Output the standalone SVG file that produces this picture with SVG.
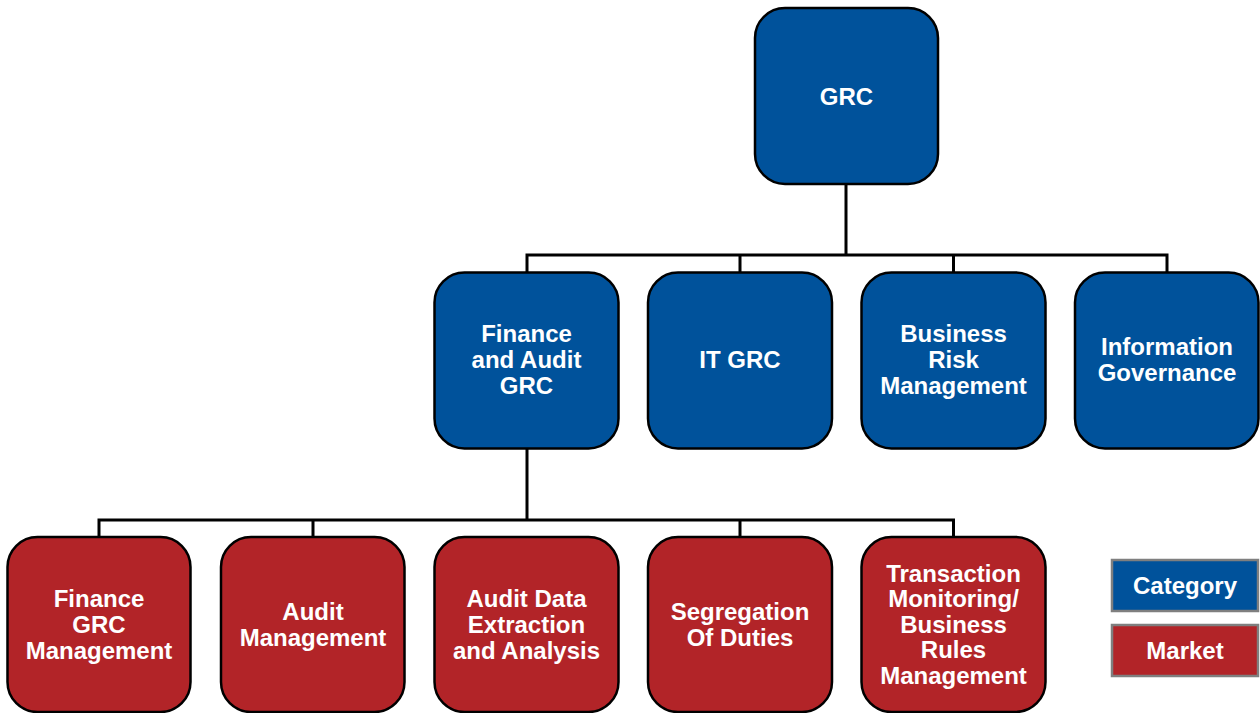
<svg xmlns="http://www.w3.org/2000/svg" width="1260" height="713" viewBox="0 0 1260 713">
  <style>
    .cat { fill: #00529B; stroke: #000; stroke-width: 2.5; }
    .mkt { fill: #B22428; stroke: #000; stroke-width: 2.5; }
    .leg-cat { fill: #00529B; stroke: #7F7F7F; stroke-width: 2.5; }
    .leg-mkt { fill: #B22428; stroke: #7F7F7F; stroke-width: 2.5; }
    text { font-family: "Liberation Sans", Arial, sans-serif; font-weight: bold; font-size: 24px; fill: #fff; text-anchor: middle; }
    .conn { fill: none; stroke: #000; stroke-width: 3; }
  </style>
  <rect width="1260" height="713" fill="#fff"/>

  <!-- connectors -->
  <g id="connectors" class="conn">
    <path d="M846 185 V255 M527 272 V255 H1167 V272 M740 255 V272 M953.5 255 V272"/>
    <path d="M527 449 V520 M99 537 V520 H953.5 V537 M313 520 V537 M740 520 V537"/>
  </g>

  <!-- root -->
  <g id="grc">
    <rect class="cat" x="755" y="8" width="183" height="176" rx="30"/>
    <text x="846.5" y="105">GRC</text>
  </g>

  <!-- categories -->
  <g id="finance-audit-grc">
    <rect class="cat" x="434.5" y="272.5" width="184" height="176" rx="30"/>
    <text x="526.5" y="342">Finance</text>
    <text x="526.5" y="368">and Audit</text>
    <text x="526.5" y="394">GRC</text>
  </g>
  <g id="it-grc">
    <rect class="cat" x="648" y="272.5" width="184" height="176" rx="30"/>
    <text x="740" y="368">IT GRC</text>
  </g>
  <g id="business-risk">
    <rect class="cat" x="861.5" y="272.5" width="184" height="176" rx="30"/>
    <text x="953.5" y="342">Business</text>
    <text x="953.5" y="368">Risk</text>
    <text x="953.5" y="394">Management</text>
  </g>
  <g id="information-governance">
    <rect class="cat" x="1075" y="272.5" width="183.5" height="176" rx="30"/>
    <text x="1167" y="355">Information</text>
    <text x="1167" y="381">Governance</text>
  </g>

  <!-- markets -->
  <g id="finance-grc-mgmt">
    <rect class="mkt" x="7.5" y="537" width="183" height="175" rx="30"/>
    <text x="99" y="607">Finance</text>
    <text x="99" y="633">GRC</text>
    <text x="99" y="659">Management</text>
  </g>
  <g id="audit-mgmt">
    <rect class="mkt" x="221" y="537" width="183.5" height="175" rx="30"/>
    <text x="313" y="620">Audit</text>
    <text x="313" y="646">Management</text>
  </g>
  <g id="audit-data">
    <rect class="mkt" x="434.5" y="537" width="184" height="175" rx="30"/>
    <text x="526.5" y="607">Audit Data</text>
    <text x="526.5" y="633">Extraction</text>
    <text x="526.5" y="659">and Analysis</text>
  </g>
  <g id="segregation">
    <rect class="mkt" x="648" y="537" width="184" height="175" rx="30"/>
    <text x="740" y="620">Segregation</text>
    <text x="740" y="646">Of Duties</text>
  </g>
  <g id="transaction-monitoring">
    <rect class="mkt" x="861.5" y="537" width="184" height="175" rx="30"/>
    <text x="953.5" y="581.5">Transaction</text>
    <text x="953.5" y="607">Monitoring/</text>
    <text x="953.5" y="632.5">Business</text>
    <text x="953.5" y="658">Rules</text>
    <text x="953.5" y="683.5">Management</text>
  </g>

  <!-- legend -->
  <g id="legend-category">
    <rect class="leg-cat" x="1112" y="560" width="146" height="51"/>
    <text x="1185" y="594">Category</text>
  </g>
  <g id="legend-market">
    <rect class="leg-mkt" x="1112" y="625" width="146" height="51"/>
    <text x="1185" y="659">Market</text>
  </g>
</svg>
